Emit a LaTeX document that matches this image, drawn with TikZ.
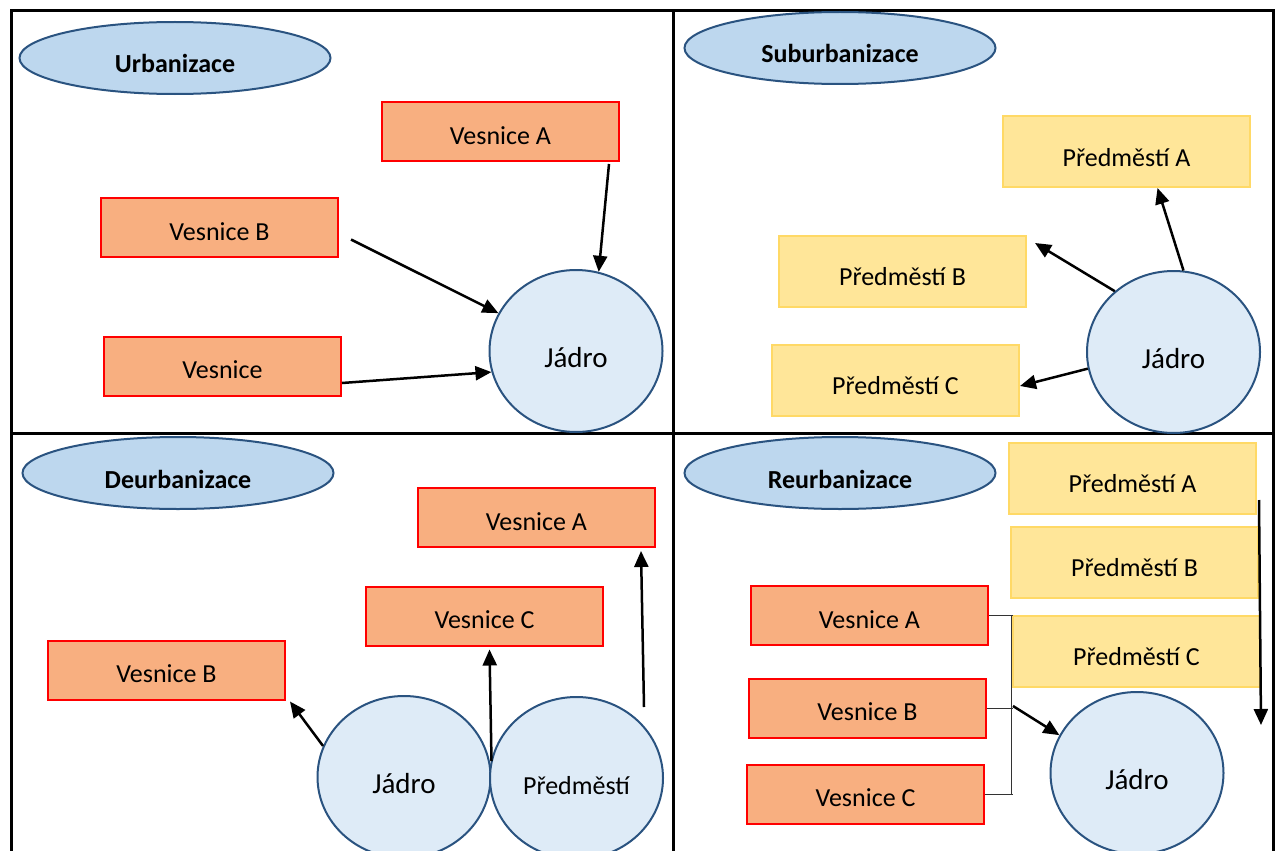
\documentclass[tikz,border=0pt]{standalone}
\usepackage{fontspec}
\setmainfont{Carlito}
\usepackage{tikz}
\usetikzlibrary{shapes.geometric}
\usetikzlibrary{arrows.meta}
\definecolor{titlefill}{HTML}{BDD7EE}
\definecolor{ringblue}{HTML}{2A5380}
\definecolor{corefill}{HTML}{DEEBF7}
\definecolor{villfill}{HTML}{F8AF80}
\definecolor{subfill}{HTML}{FFE699}
\definecolor{subdraw}{HTML}{FFD966}

\begin{document}
\begin{tikzpicture}[x=1pt,y=-1pt,
    font=\fontsize{26}{31}\selectfont,
    title/.style={ellipse,draw=ringblue,line width=2pt,fill=titlefill,
      minimum width=311pt,minimum height=72pt,inner sep=0pt,
      font=\fontsize{26}{31}\selectfont\bfseries,text height=30pt,text depth=0pt},
    village/.style={rectangle,draw=red,line width=2pt,fill=villfill,
      minimum width=237pt,minimum height=59pt,inner sep=0pt,text height=25pt,text depth=0pt},
    suburb/.style={rectangle,draw=subdraw,line width=2pt,fill=subfill,
      minimum width=247pt,minimum height=71pt,inner sep=0pt,text height=29pt,text depth=0pt},
    core/.style={ellipse,draw=ringblue,line width=2pt,fill=corefill,
      minimum width=173pt,minimum height=162pt,inner sep=0pt,
      font=\fontsize{29}{34}\selectfont,text height=32pt,text depth=0pt},
    arr/.style={-{Triangle[length=16pt,width=14pt]},line width=2.5pt},
    bracket/.style={line width=1pt,black!80}]
    \useasboundingbox (0,0) rectangle (1280,851);
    % table
    \draw[line width=3pt] (11,851) -- (11,11) -- (1273,11) -- (1273,851);
    \draw[line width=3pt] (673,11) -- (673,851);
    \draw[line width=3pt] (11,433) -- (1273,433);

    % Urbanizace
    \node[title] (ut) at (175,58) {Urbanizace};
    \node[village] (uva) at (500.5,131.5) {Vesnice A};
    \node[village] (uvb) at (219.5,227.5) {Vesnice B};
    \node[village] (uv) at (222.5,366) {Vesnice};
    \node[core] (uj) at (576,351) {Jádro};
    \draw[arr] ([xshift=-11pt,yshift=-2pt]uva.south east) -- (uj.74);
    \draw[arr] ([xshift=12pt,yshift=-12pt]uvb.east) -- (uj.154);
    \draw[arr] ([yshift=-17pt]uv.east) -- (uj.194);

    % Suburbanizace
    \node[title] (st) at (840,48) {Suburbanizace};
    \node[suburb] (spa) at (1126.5,151.5) {Předměstí A};
    \node[suburb] (spb) at (902.5,271) {Předměstí B};
    \node[suburb] (spc) at (895.5,380) {Předměstí C};
    \node[core] (sj) at (1173.5,352) {Jádro};
    \draw[arr] (sj.83) -- ([xshift=31pt]spa.south);
    \draw[arr] (sj.134) -- ([xshift=8pt,yshift=28pt]spb.east);
    \draw[arr] (sj.191) -- ([yshift=-6pt]spc.east);

    % Deurbanizace
    \node[title] (dt) at (178,473) {Deurbanizace};
    \node[village] (dva) at (536.5,517.5) {Vesnice A};
    \node[village] (dvc) at (484.5,616) {Vesnice C};
    \node[village] (dvb) at (166.5,670) {Vesnice B};
    \node[core] (dj) at (404,777) {Jádro};
    \node[core,font=\fontsize{26}{31}\selectfont] (dp) at (576.5,778) {Předměstí};
    \draw[arr] (dj.159) -- ([xshift=4pt,yshift=-1pt]dvb.south east);
    \draw[arr] ([yshift=16pt]dj.east) -- ([xshift=5pt,yshift=-3pt]dvc.south);
    \draw[arr] ([xshift=67.5pt,yshift=-11pt]dp.north) -- ([xshift=-15pt,yshift=-3pt]dva.south east);

    % Reurbanizace
    \node[title] (rt) at (840,473) {Reurbanizace};
    \node[suburb] (rpa) at (1132.5,478) {Předměstí A};
    \node[suburb] (rpb) at (1134.5,562) {Předměstí B};
    \node[suburb] (rpc) at (1136.5,651) {Předměstí C};
    \node[village] (rva) at (869.5,615.5) {Vesnice A};
    \node[village] (rvb) at (867.5,708) {Vesnice B};
    \node[village] (rvc) at (865.5,794) {Vesnice C};
    \node[core] (rj) at (1137,773) {Jádro};
    \coordinate (rb) at (1011,706);
    \coordinate (rend) at (1261,725);
    \draw[bracket] (rva.east -| rb) -- (rvc.east -| rb);
    \draw[bracket] (rva.east) -- ([xshift=2pt]rva.east -| rb);
    \draw[bracket] (rvb.east) -- ([xshift=2pt]rvb.east -| rb);
    \draw[bracket] (rvc.east) -- ([xshift=2pt]rvc.east -| rb);
    \draw[arr] ([xshift=2pt]rb) -- (rj.154);
    \draw[arr] ([xshift=2pt,yshift=-22pt]rpa.east) -- (rend);
  \end{tikzpicture}
\end{document}
